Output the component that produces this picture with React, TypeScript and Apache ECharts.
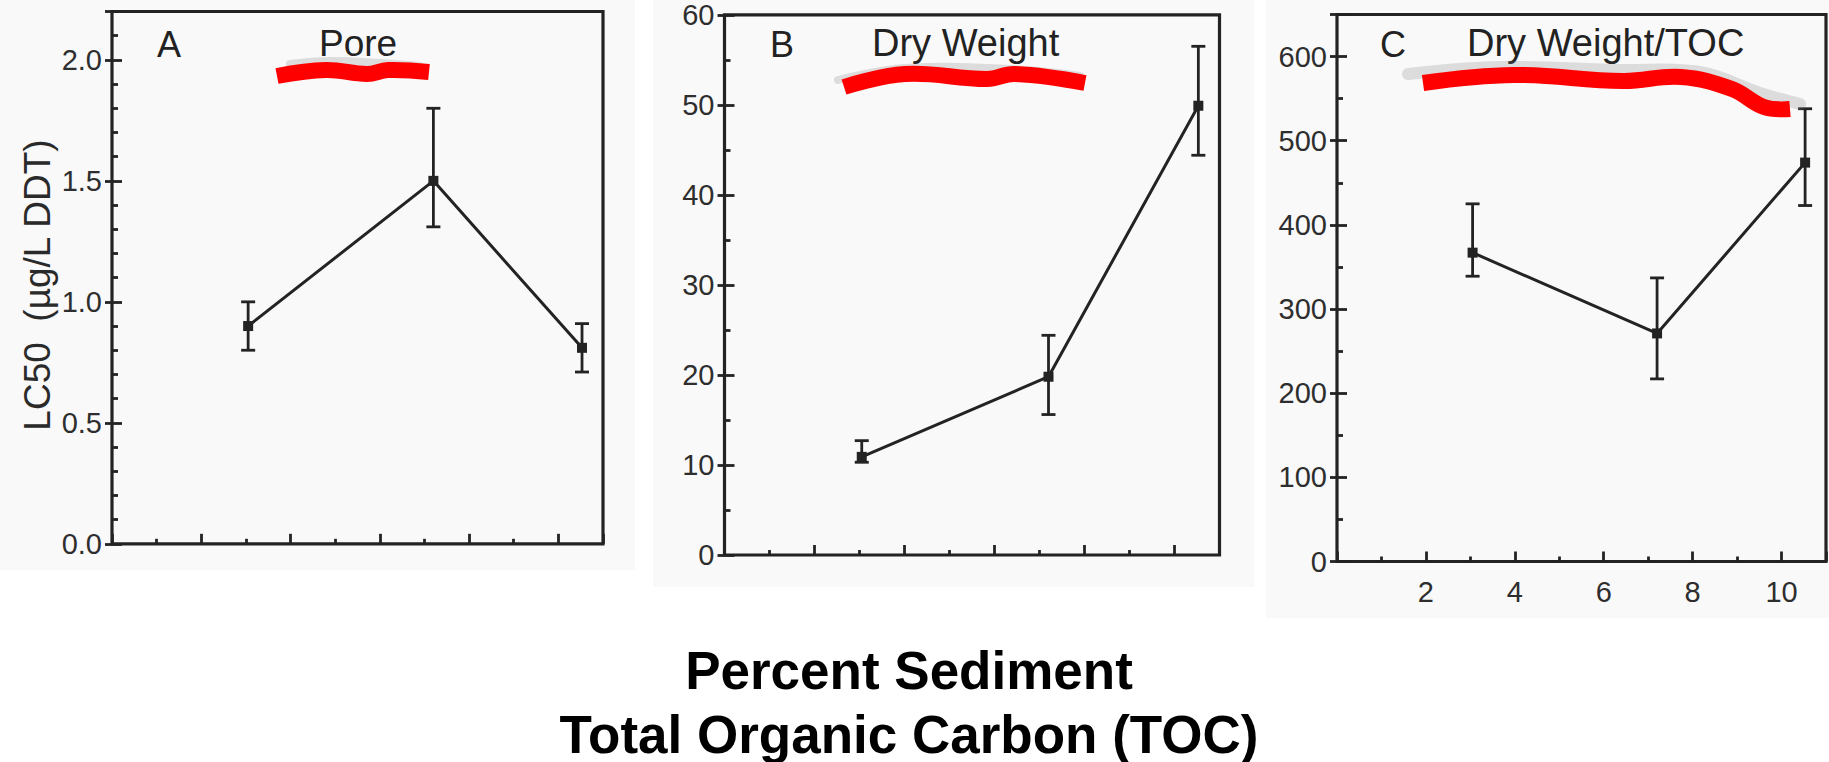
import React, { useEffect, useRef } from "react";
import * as echarts from "echarts";

// ---- data ----
const tocPercent = [3.05, 7.2, 10.53];

const poreLC50 = [0.9, 1.5, 0.81];
const poreLow = [0.8, 1.31, 0.71];
const poreHigh = [1.0, 1.8, 0.91];

const dryLC50 = [10.9, 19.8, 49.9];
const dryLow = [10.3, 15.6, 44.4];
const dryHigh = [12.7, 24.4, 56.5];

const dryTocLC50 = [367, 271, 474];
const dryTocLow = [339, 217, 423];
const dryTocHigh = [425, 337, 538];

const panelLetters = ["A", "B", "C"];
const panelTitles = ["Pore", "Dry Weight", "Dry Weight/TOC"];
const yAxisTitle = "LC50  (µg/L DDT)";
const xAxisTitleLines = ["Percent Sediment", "Total Organic Carbon (TOC)"];

const INK = "#232323";
const FONT = "Liberation Sans, Arial, Helvetica, sans-serif";

const panels = [
  { mean: poreLC50, low: poreLow, high: poreHigh, min: 0, max: 2.2, interval: 0.5, minor: 5, digits: 1 },
  { mean: dryLC50, low: dryLow, high: dryHigh, min: 0, max: 60, interval: 10, minor: 2, digits: 0 },
  { mean: dryTocLC50, low: dryTocLow, high: dryTocHigh, min: 0, max: 650, interval: 100, minor: 2, digits: 0 },
];

const gridBoxes = [
  { left: 112, top: 11.5, width: 491, height: 532.3 },
  { left: 724.5, top: 14.8, width: 495, height: 540.2 },
  { left: 1337, top: 14.5, width: 495, height: 547 },
];

const textLayout = [
  { letterX: 157, titleX: 319, titleSize: 37 },
  { letterX: 770, titleX: 872, titleSize: 38 },
  { letterX: 1380, titleX: 1467, titleSize: 38 },
];

const scribbles = [
  {
    red: [[277, 76], [326, 70], [367, 74], [388, 70], [429, 72]],
    grey: [[290, 64], [330, 61], [380, 63], [420, 66]],
    greyW: 8,
  },
  {
    red: [[844, 87], [905, 74], [987, 79], [1015, 74], [1085, 83]],
    grey: [[838, 80], [905, 68], [1010, 69], [1080, 76]],
    greyW: 8,
  },
  {
    red: [[1423, 83], [1514, 75], [1623, 81], [1681, 77], [1732, 89], [1764, 107], [1790, 109]],
    grey: [[1408, 74], [1500, 67], [1620, 70], [1700, 72], [1760, 93], [1800, 104]],
    greyW: 12,
  },
];

export default function App() {
  const ref = useRef<HTMLDivElement>(null);

  useEffect(() => {
    if (!ref.current) return;
    const chart = echarts.init(ref.current, undefined, { renderer: "svg" });

    const grid: any[] = [];
    const xAxis: any[] = [];
    const yAxis: any[] = [];
    const series: any[] = [];

    panels.forEach((p, i) => {
      grid.push({
        ...gridBoxes[i],
        show: true,
        borderColor: INK,
        borderWidth: 3.2,
        backgroundColor: "transparent",
      });
      xAxis.push({
        gridIndex: i,
        type: "value",
        min: 0,
        max: 11,
        interval: 2,
        axisLine: { show: false },
        splitLine: { show: false },
        axisTick: { show: true, inside: true, length: 10, lineStyle: { color: INK, width: 2.8 } },
        minorTick: { show: true, splitNumber: 2, length: 5, lineStyle: { color: INK, width: 2.8 } },
        axisLabel: {
          show: i === 2,
          formatter: (v: number) => (v > 0 && v <= 10 ? String(v) : ""),
          margin: 16,
          fontSize: 29,
          color: "#2e2e2e",
          fontFamily: FONT,
        },
      });
      // main y axis: labels + inside ticks
      yAxis.push({
        gridIndex: i,
        type: "value",
        position: "left",
        min: p.min,
        max: p.max,
        interval: p.interval,
        axisLine: { show: false },
        splitLine: { show: false },
        axisTick: { show: true, inside: true, length: 10, lineStyle: { color: INK, width: 2.8 } },
        minorTick: { show: true, splitNumber: p.minor, length: 6, lineStyle: { color: INK, width: 2.8 } },
        axisLabel: {
          margin: 10,
          fontSize: 29,
          color: "#2e2e2e",
          fontFamily: FONT,
          formatter: (v: number) => {
            const r = v / p.interval;
            return Math.abs(r - Math.round(r)) < 1e-6 ? v.toFixed(p.digits) : "";
          },
        },
      });
      // secondary y axis: outer part of major ticks
      yAxis.push({
        gridIndex: i,
        type: "value",
        position: "left",
        min: p.min,
        max: p.max,
        interval: p.interval,
        axisLine: { show: false },
        splitLine: { show: false },
        axisTick: { show: true, inside: false, length: 7, lineStyle: { color: INK, width: 2.8 } },
        axisLabel: { show: false },
      });

      series.push({
        type: "line",
        xAxisIndex: i,
        yAxisIndex: 2 * i,
        data: tocPercent.map((x, j) => [x, p.mean[j]]),
        symbol: "rect",
        symbolSize: 10,
        lineStyle: { color: INK, width: 3 },
        itemStyle: { color: INK },
        z: 4,
      });
      series.push({
        type: "custom",
        xAxisIndex: i,
        yAxisIndex: 2 * i,
        data: tocPercent.map((x, j) => [x, p.low[j], p.high[j]]),
        encode: { x: 0, y: [1, 2] },
        z: 3,
        renderItem: (_params: any, api: any) => {
          const x = api.value(0);
          const lo = api.coord([x, api.value(1)]);
          const hi = api.coord([x, api.value(2)]);
          const hw = 7;
          const style = { stroke: INK, lineWidth: 2.8 };
          return {
            type: "group",
            children: [
              { type: "line", shape: { x1: lo[0], y1: lo[1], x2: hi[0], y2: hi[1] }, style },
              { type: "line", shape: { x1: lo[0] - hw, y1: lo[1], x2: lo[0] + hw, y2: lo[1] }, style },
              { type: "line", shape: { x1: hi[0] - hw, y1: hi[1], x2: hi[0] + hw, y2: hi[1] }, style },
            ],
          };
        },
      });
    });

    const graphic: any[] = [
      // scanned-panel backgrounds
      { type: "rect", z: -10, shape: { x: 0, y: 0, width: 635, height: 570 }, style: { fill: "#f9f9f9" } },
      { type: "rect", z: -10, shape: { x: 653, y: 0, width: 601, height: 587 }, style: { fill: "#f9f9f9" } },
      { type: "rect", z: -10, shape: { x: 1266, y: 0, width: 563, height: 618 }, style: { fill: "#f9f9f9" } },
    ];

    panels.forEach((_p, i) => {
      const t = textLayout[i];
      graphic.push({
        type: "text",
        z: 5,
        x: t.letterX,
        y: 44,
        style: {
          text: panelLetters[i],
          font: `36px ${FONT}`,
          fill: "#222",
          textAlign: "left",
          textVerticalAlign: "middle",
          align: "left",
          verticalAlign: "middle",
        },
      });
      graphic.push({
        type: "text",
        z: 5,
        x: t.titleX,
        y: 43,
        style: {
          text: panelTitles[i],
          font: `${t.titleSize}px ${FONT}`,
          fill: "#222",
          textAlign: "left",
          textVerticalAlign: "middle",
          align: "left",
          verticalAlign: "middle",
        },
      });
      const s = scribbles[i];
      graphic.push({
        type: "polyline",
        z: 6,
        shape: { points: s.grey, smooth: 0.4 },
        style: {
          stroke: "rgba(120,120,120,0.22)",
          lineWidth: s.greyW,
          lineCap: "round",
          fill: null,
        },
      });
      graphic.push({
        type: "polyline",
        z: 7,
        shape: { points: s.red, smooth: 0.4 },
        style: { stroke: "#ff0000", lineWidth: 16, lineCap: "butt", lineJoin: "round", fill: null },
      });
    });

    graphic.push({
      type: "text",
      z: 5,
      x: 37,
      y: 285,
      rotation: Math.PI / 2,
      style: {
        text: yAxisTitle,
        font: `37px ${FONT}`,
        fill: "#2a2a2a",
        textAlign: "center",
        textVerticalAlign: "middle",
        align: "center",
        verticalAlign: "middle",
      },
    });

    xAxisTitleLines.forEach((line, k) => {
      graphic.push({
        type: "text",
        z: 5,
        x: 909,
        y: k === 0 ? 670 : 734,
        style: {
          text: line,
          font: `bold 53px ${FONT}`,
          fill: "#000",
          textAlign: "center",
          textVerticalAlign: "middle",
          align: "center",
          verticalAlign: "middle",
        },
      });
    });

    chart.setOption({
      animation: false,
      backgroundColor: "#ffffff",
      grid,
      xAxis,
      yAxis,
      series,
      graphic,
    });

    return () => chart.dispose();
  }, []);

  return (
    <div
      ref={ref}
      style={{ position: "fixed", left: 0, top: 0, width: "1829px", height: "762px" }}
    />
  );
}
